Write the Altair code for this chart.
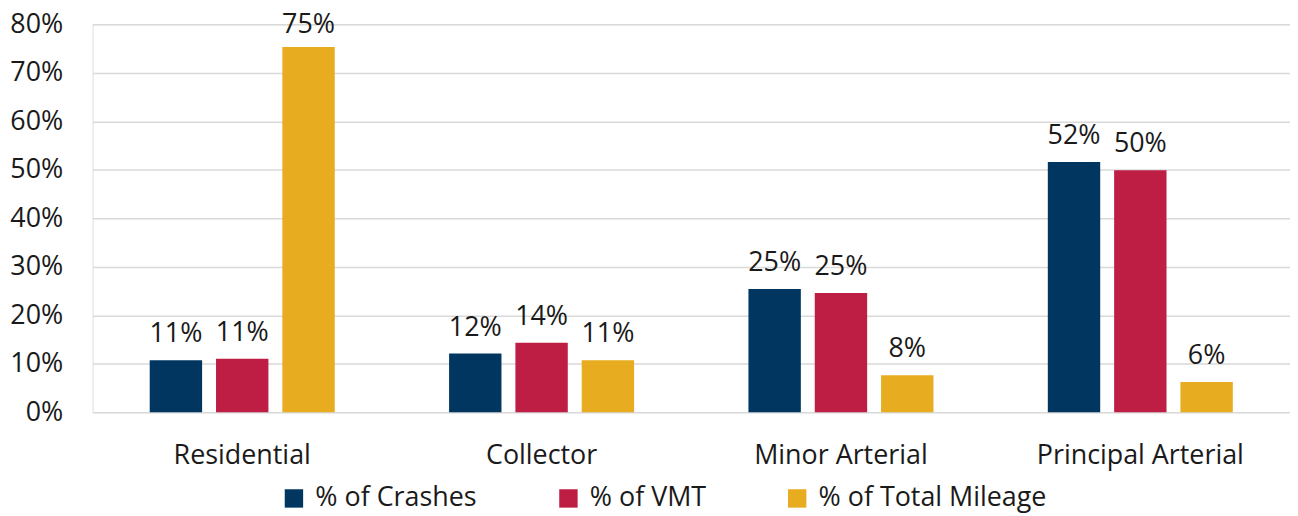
import altair as alt
import pandas as pd

categories = ["Residential", "Collector", "Minor Arterial", "Principal Arterial"]
series = ["% of Crashes", "% of VMT", "% of Total Mileage"]
crashes = [0.107, 0.121, 0.254, 0.516]
vmt = [0.110, 0.143, 0.246, 0.499]
mileage = [0.753, 0.107, 0.076, 0.062]
colors = ["#00365F", "#BE1E43", "#E8AC21"]
y_ticks = [0, 0.1, 0.2, 0.3, 0.4, 0.5, 0.6, 0.7, 0.8]

rows = []
for s, vals in zip(series, [crashes, vmt, mileage]):
    for c, v in zip(categories, vals):
        rows.append({"category": c, "series": s, "value": v})
df = pd.DataFrame(rows)

FONT = "Open Sans"
TXT = "#1a1a1a"
FS = 27

x = alt.X("category:N", sort=categories, title=None,
          scale=alt.Scale(paddingInner=0.382, paddingOuter=0.191),
          axis=alt.Axis(labelAngle=0, labelFontSize=FS, labelFont=FONT, labelColor=TXT,
                        labelPadding=31, labelLimit=400, ticks=False, domain=False, grid=False))
xo = alt.XOffset("series:N", sort=series,
                 scale=alt.Scale(paddingInner=0.21, paddingOuter=0))
y = alt.Y("value:Q", title=None,
          scale=alt.Scale(domain=[0, 0.8], nice=False),
          axis=alt.Axis(values=y_ticks, format=".0%", labelFontSize=FS, labelFont=FONT,
                        labelColor=TXT, labelPadding=30, ticks=False, domain=False,
                        gridColor="#D9D9D9", gridWidth=1.5))
color = alt.Color("series:N", sort=series, title=None,
                  scale=alt.Scale(domain=series, range=colors),
                  legend=alt.Legend(orient="none", legendX=189, legendY=463,
                                    direction="horizontal", symbolType="square",
                                    symbolSize=342, symbolStrokeWidth=0,
                                    labelFontSize=FS, labelFont=FONT, labelColor=TXT,
                                    labelOffset=8, columnPadding=78, labelLimit=400))

base = alt.Chart(df)
bars = base.mark_bar().encode(x=x, xOffset=xo, y=y, color=color)
# labels sit above bars; the tallest is held just inside the top edge, as in the original
labels = base.transform_calculate(
    label_pos="min(datum.value, 0.745)"
).mark_text(baseline="bottom", dy=-12, fontSize=FS, font=FONT, color=TXT).encode(
    x=alt.X("category:N", sort=categories),
    xOffset=alt.XOffset("series:N", sort=series),
    y=alt.Y("label_pos:Q"),
    text=alt.Text("value:Q", format=".0%"),
)

chart = (bars + labels).properties(
    width=1204, height=390,
    autosize=alt.AutoSizeParams(type="none"),
    padding={"left": 85, "top": 15, "right": 0, "bottom": 100},
).configure_view(stroke=None).configure(background="white")

chart.save("out.html", embed_options={"renderer": "svg", "actions": False})
